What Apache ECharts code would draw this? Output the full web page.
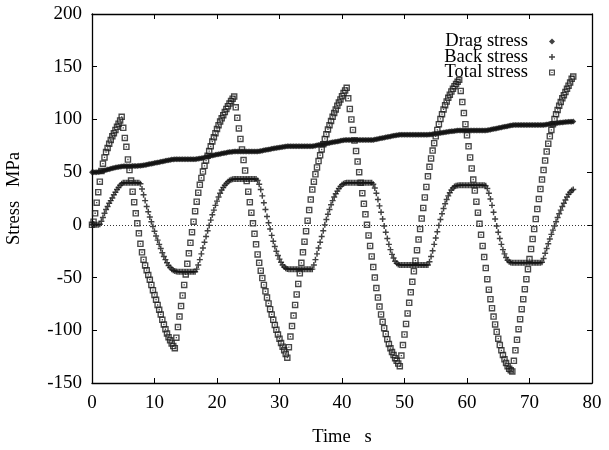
<!DOCTYPE html>
<html>
<head>
<meta charset="utf-8">
<script src="https://cdn.jsdelivr.net/npm/echarts@6/dist/echarts.min.js"></script>
<style>
  html, body { margin: 0; padding: 0; background: #fff; }
  #chart { width: 609px; height: 450px; }
</style>
</head>
<body>
<div id="chart"></div>
<script>
// Sampling interval of the simulation output (s)
const TIME_STEP = 0.25;

// Drag (isotropic) stress, MPa, one value per time step
const dragStress = [
  50, 50, 50, 50, 50.2, 50.4, 50.8, 51.2, 51.6, 52, 52.4, 52.8, 53.2, 53.6, 54, 54.3, 54.6, 54.9, 55.2, 55.4,
  55.5, 55.5, 55.6, 55.6, 55.7, 55.7, 55.8, 55.8, 55.9, 55.9, 56, 56,
  56.2, 56.5, 56.8, 57.1, 57.4, 57.7, 58, 58.3, 58.6, 58.9, 59.2, 59.5, 59.8, 60.1, 60.4, 60.7, 61, 61.3, 61.6, 61.9, 62.1, 62.3,
  62.3, 62.3, 62.3, 62.3, 62.3, 62.3, 62.3, 62.3, 62.3, 62.3, 62.3, 62.3, 62.3,
  62.4, 62.6, 62.9, 63.2, 63.5, 63.9, 64.3, 64.7, 65.1, 65.5, 65.8, 66.1, 66.4, 66.7, 67, 67.3, 67.6, 67.9, 68.2, 68.5, 68.8, 69, 69.2, 69.4, 69.5,
  69.5, 69.5, 69.5, 69.5, 69.5, 69.5, 69.5, 69.5, 69.5, 69.5, 69.5, 69.5, 69.5, 69.5, 69.5,
  69.8, 70.1, 70.4, 70.7, 71, 71.2, 71.5, 71.8, 72.1, 72.4, 72.6, 72.9, 73.2, 73.4, 73.7, 73.9, 74.1, 74.3, 74.5,
  74.5, 74.5, 74.5, 74.5, 74.5, 74.5, 74.5, 74.5, 74.5, 74.5, 74.5, 74.5, 74.5, 74.5, 74.5, 74.5,
  74.8, 75.1, 75.4, 75.7, 76, 76.3, 76.5, 76.8, 77.1, 77.4, 77.7, 78, 78.3, 78.5, 78.8, 79.1, 79.4, 79.7, 79.9, 80.2, 80.4, 80.6,
  80.6, 80.6, 80.6, 80.6, 80.6, 80.6, 80.6, 80.6, 80.6, 80.6, 80.6, 80.6, 80.6, 80.6, 80.6, 80.6, 80.6,
  80.9, 81.2, 81.5, 81.8, 82.1, 82.4, 82.7, 83, 83.3, 83.6, 83.9, 84.2, 84.5, 84.8, 85, 85.2, 85.4,
  85.4, 85.4, 85.4, 85.4, 85.4, 85.4, 85.4, 85.4, 85.4, 85.4, 85.4, 85.4, 85.4, 85.4, 85.4, 85.4, 85.4, 85.4,
  85.6, 85.8, 86, 86.3, 86.5, 86.7, 87, 87.2, 87.4, 87.6, 87.8, 88, 88.3, 88.5, 88.7, 88.9, 89.1, 89.3, 89.4, 89.5,
  89.5, 89.5, 89.5, 89.5, 89.5, 89.5, 89.5, 89.5, 89.5, 89.5, 89.5, 89.5, 89.5, 89.5, 89.5, 89.5, 89.5,
  89.7, 90, 90.3, 90.6, 90.9, 91.2, 91.5, 91.8, 92.1, 92.4, 92.7, 93, 93.3, 93.6, 93.9, 94.2, 94.5,
  94.6, 94.6, 94.6, 94.6, 94.6, 94.6, 94.6, 94.6, 94.6, 94.6, 94.6, 94.6, 94.6, 94.6, 94.6, 94.6, 94.6, 94.6, 94.6,
  94.8, 95, 95.2, 95.4, 95.6, 95.8, 96, 96.2, 96.4, 96.6, 96.8, 97, 97.2, 97.3, 97.5, 97.6, 97.7, 97.8, 97.9, 98
];

// Back (kinematic) stress, MPa
const backStress = [
  0, 0, 0, 0, 0, 0.5, 3.5, 7, 11, 14.5, 17.5, 20.5, 23, 25.5, 28.5, 31, 33.5, 35.5, 37.5, 39,
  40, 40, 40, 40, 40, 40, 40, 40, 40, 40, 40,
  39, 34, 28.5, 23, 17.5, 12.5, 7.5, 3, -1.5, -6, -10.5, -14.5, -18.5, -22.5, -26.5, -30, -33, -36, -38.5, -40.5, -42, -43, -43.8,
  -44.3, -44.5, -44.5, -44.5, -44.5, -44.5, -44.5, -44.5, -44.5, -44.5, -44.5, -44.5, -44.5,
  -42, -38, -33, -27.5, -22, -16.5, -11, -5.5, -0.5, 4.5, 9.5, 14, 18.5, 22.5, 26.5, 30, 33, 35.5, 37.5, 39.3, 40.8, 42, 42.8, 43.3, 43.5,
  43.5, 43.5, 43.5, 43.5, 43.5, 43.5, 43.5, 43.5, 43.5, 43.5, 43.5, 43.5, 43.5, 43.5,
  42, 38.5, 33.5, 27.5, 21, 14.5, 8, 2, -4, -10, -15.5, -20.5, -25, -29, -32.5, -35.5, -38, -40, -41.2, -41.8,
  -42, -42, -42, -42, -42, -42, -42, -42, -42, -42, -42, -42, -42, -42, -42, -42,
  -38, -33, -27.5, -22, -16.5, -11, -5.5, 0, 5, 10, 14.5, 19, 23, 26.5, 29.5, 32, 34.5, 36.5, 38, 39, 39.6, 40,
  40, 40, 40, 40, 40, 40, 40, 40, 40, 40, 40, 40, 40, 40, 40, 40,
  38.5, 35, 30, 24, 18, 12, 5.5, -1, -7, -13, -18.5, -23.5, -28, -31.5, -34.5, -36.5, -37.5, -38,
  -38, -38, -38, -38, -38, -38, -38, -38, -38, -38, -38, -38, -38, -38, -38, -38, -38, -38,
  -35, -30, -24.5, -18.5, -12.5, -6.5, -0.5, 5, 10.5, 15.5, 20, 24, 27.5, 30.5, 33, 35, 36.3, 37, 37.4, 37.5,
  37.5, 37.5, 37.5, 37.5, 37.5, 37.5, 37.5, 37.5, 37.5, 37.5, 37.5, 37.5, 37.5, 37.5, 37.5, 37.5,
  37, 34.5, 30, 24.5, 18.5, 12, 5.5, -1, -7, -13, -18.5, -23.5, -27.5, -31, -33.5, -35, -35.8, -36,
  -36, -36, -36, -36, -36, -36, -36, -36, -36, -36, -36, -36, -36, -36, -36, -36, -36, -36,
  -35.5, -32, -27, -22.5, -18, -13.5, -9, -5, -1, 3, 7, 10.5, 14, 17.5, 20.5, 23.5, 26.5, 29, 31, 32.5, 33.5
];

// Total (applied) stress, MPa
const totalStress = [
  0, 3, 11, 21, 31, 41, 51, 58, 64, 69, 73, 77, 80.5, 84, 87, 90, 93, 96, 99, 102.5,
  92, 82.5, 74, 62, 52, 42, 31.5, 21.5, 11, 1.5, -8, -18, -26, -33, -38.5, -43, -47.5, -52, -57, -62,
  -66.5, -71, -76, -80.5, -85, -90, -94.5, -99, -103, -106.5, -109.5, -112.5, -115, -117,
  -107, -97, -87, -77, -67, -57, -47, -37, -27, -17, -7, 3, 13, 22, 30.5, 38, 44.5, 50.5, 56, 61,
  65.5, 70, 74.5, 79, 83, 87, 91, 94.5, 98, 101, 104, 107, 110, 112.5, 115, 117.5, 119.7, 121.7,
  111.5, 101.5, 91.5, 81.5, 71.5, 61.5, 51.5, 41.5, 31.5, 21.5, 11.5, 1.5, -8.5, -18.5, -28, -36, -43.5,
  -50.5, -57, -63, -69, -74.5, -80, -85, -90, -95, -99.5, -104, -108, -112, -115.5, -119, -122.5, -126,
  -116, -106, -96, -86, -76, -66, -56, -46, -36, -26, -16, -6, 4, 14, 24, 33.5, 41, 48, 54.5, 60.5,
  66, 71.5, 76.5, 81.5, 86, 90.5, 94.5, 98.5, 102.5, 106, 109.5, 113, 116, 119, 122, 125, 127.5, 130,
  120, 110, 100, 90, 80, 70, 60, 50, 40, 30, 20, 10, 0, -10, -20, -30, -40, -50, -60,
  -69, -77.5, -85, -92, -98, -103.5, -108.5, -113, -117, -120.5, -123.5, -126.5, -129, -131.5, -134,
  -124, -114, -104, -94, -84, -74, -64, -54, -44, -34, -24, -14, -4, 6, 16, 26, 36, 46, 55,
  63, 70.5, 77.5, 84, 90, 95.5, 100.5, 105, 109.5, 113.5, 117, 120.5, 123.5, 126.5, 129, 131.5, 133.5, 135.7, 137.6,
  127, 116.5, 106, 95.5, 85, 74.5, 64, 53.5, 43, 32.5, 22, 11.5, 1, -9.5, -20, -30.5, -41, -51.5,
  -61.5, -70.5, -79, -87, -94.5, -101.5, -108, -114, -119, -123.5, -127.5, -131, -134, -136.5, -138, -139,
  -129, -119, -109, -99, -89.5, -80, -70.5, -61, -51.5, -42, -32.5, -23, -13.5, -4, 5.5, 15, 24.5, 34,
  43, 52, 61, 69.5, 77, 84, 90, 95.5, 100.5, 105, 109, 113, 116.5, 120, 123, 126, 129, 132, 135, 138.5, 140.7
];

const seriesNames = ['Drag stress', 'Back stress', 'Total stress'];
const timeAxis = { min: 0, max: 80, interval: 10 };
const stressAxis = { min: -150, max: 200, interval: 50 };

const SERIF = '"Liberation Serif", "Times New Roman", serif';
const INK = '#111';

// Marker shapes: filled diamond, thin plus, hollow square with a centre dot
const PLUS = 'path://M3.8,0H6.2V3.8H10V6.2H6.2V10H3.8V6.2H0V3.8H3.8Z';
const BOX = 'path://M0,0L10,0L10,10L0,10Z M2.1,2.1L2.1,7.9L7.9,7.9L7.9,2.1Z M4,4L6,4L6,6L4,6Z';

function withTime(values) {
  return values.map((v, i) => [i * TIME_STEP, v]);
}

const chart = echarts.init(document.getElementById('chart'), null, { renderer: 'canvas' });

const frameAxis = {
  axisLine: { show: true, onZero: false, lineStyle: { color: '#000', width: 1.3 } },
  axisTick: { show: true, inside: true, length: 5, lineStyle: { color: '#000', width: 1 } },
  splitLine: { show: false }
};

chart.setOption({
  animation: false,
  backgroundColor: '#fff',
  grid: { left: 92, right: 17, top: 14, bottom: 67, containLabel: false, outerBoundsMode: 'none' },
  legend: {
    data: seriesNames,
    orient: 'vertical',
    align: 'right',
    right: 54,
    top: 32,
    padding: 0,
    itemGap: -3.5,
    itemWidth: 6,
    itemHeight: 6,
    selectedMode: false,
    textStyle: {
      fontFamily: SERIF, fontSize: 18.5, color: '#000',
      lineHeight: 8.5, padding: [0, 16, 7, 0]
    }
  },
  xAxis: [
    Object.assign({
      type: 'value', position: 'bottom',
      min: timeAxis.min, max: timeAxis.max, interval: timeAxis.interval,
      name: 'Time   s', nameLocation: 'middle', nameGap: 45,
      nameTextStyle: { fontFamily: SERIF, fontSize: 18.5, color: '#000' },
      axisLabel: { fontFamily: SERIF, fontSize: 19, color: '#000', margin: 11 }
    }, frameAxis),
    Object.assign({
      type: 'value', position: 'top',
      min: timeAxis.min, max: timeAxis.max, interval: timeAxis.interval,
      axisLabel: { show: false }
    }, frameAxis)
  ],
  yAxis: [
    Object.assign({
      type: 'value', position: 'left',
      min: stressAxis.min, max: stressAxis.max, interval: stressAxis.interval,
      name: 'Stress   MPa', nameLocation: 'middle', nameGap: 68, nameRotate: 90,
      nameTextStyle: { fontFamily: SERIF, fontSize: 18.5, color: '#000' },
      axisLabel: { fontFamily: SERIF, fontSize: 19, color: '#000', margin: 10 }
    }, frameAxis),
    Object.assign({
      type: 'value', position: 'right',
      min: stressAxis.min, max: stressAxis.max, interval: stressAxis.interval,
      axisLabel: { show: false }
    }, frameAxis)
  ],
  series: [
    {
      name: seriesNames[0], type: 'scatter', xAxisIndex: 0, yAxisIndex: 0,
      symbol: 'diamond', symbolSize: 6,
      itemStyle: { color: INK },
      data: withTime(dragStress), z: 2
    },
    {
      name: seriesNames[1], type: 'scatter', xAxisIndex: 0, yAxisIndex: 0,
      symbol: PLUS, symbolSize: 6,
      itemStyle: { color: INK },
      data: withTime(backStress), z: 3
    },
    {
      name: seriesNames[2], type: 'scatter', xAxisIndex: 0, yAxisIndex: 0,
      symbol: BOX, symbolSize: 6.5,
      itemStyle: { color: '#1a1a1a' },
      data: withTime(totalStress), z: 4,
      markLine: {
        silent: true,
        symbol: ['none', 'none'],
        label: { show: false },
        lineStyle: { type: [1, 2], width: 1, color: '#333' },
        data: [{ yAxis: 0 }]
      }
    }
  ]
});
</script>
</body>
</html>
